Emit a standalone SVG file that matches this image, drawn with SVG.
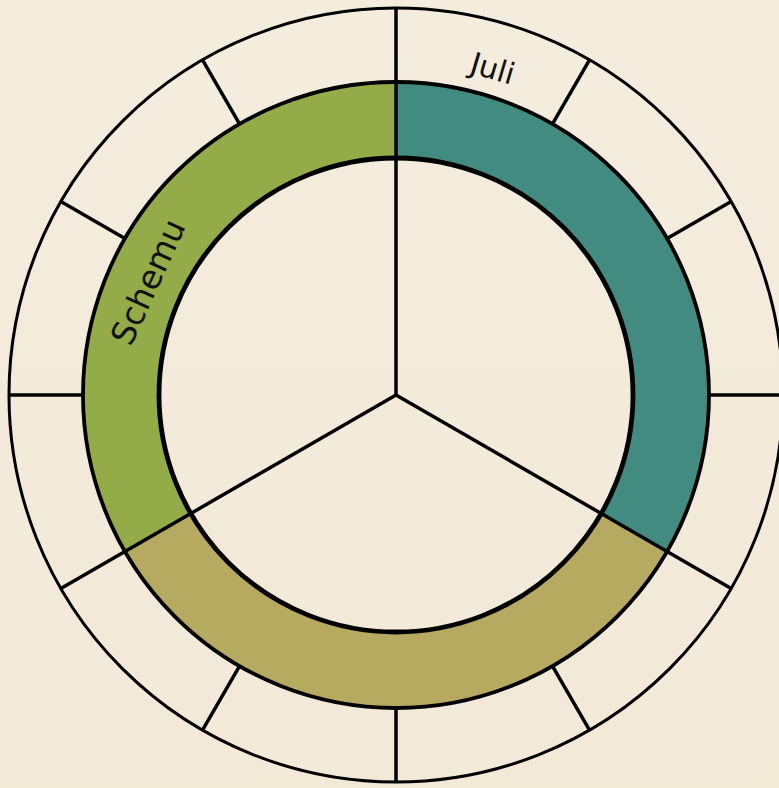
<svg xmlns="http://www.w3.org/2000/svg" width="779" height="788" viewBox="0 0 779 788">
<style>
.ln{stroke:#000;stroke-width:3.5;fill:none;stroke-linecap:butt}
.lbl{font-family:"DejaVu Sans","Open Sans",sans-serif;font-size:30px;fill:#111;text-anchor:middle}
</style>
<defs>
<linearGradient id="bg" x1="0" y1="0" x2="0" y2="1">
<stop offset="0" stop-color="#f4ecdd"/>
<stop offset="1" stop-color="#f2e9d7"/>
</linearGradient>
</defs>
<rect width="779" height="788" fill="url(#bg)"/>
<g id="seg-teal"><path d="M396,82 A313,313 0 0 1 667.1,551.5 L601.2,513.5 A237,237 0 0 0 396,158 Z" fill="#418b80"/></g>
<g id="seg-khaki"><path d="M667.1,551.5 A313,313 0 0 1 124.9,551.5 L190.8,513.5 A237,237 0 0 0 601.2,513.5 Z" fill="#b6aa60"/></g>
<g id="seg-green"><path d="M124.9,551.5 A313,313 0 0 1 396,82 L396,158 A237,237 0 0 0 190.8,513.5 Z" fill="#94ac48"/></g>
<g id="connectors">
<circle class="ln" cx="396" cy="395" r="387" style="stroke-width:3"/>
<circle class="ln" cx="396" cy="395" r="313" style="stroke-width:3.8"/>
<circle class="ln" cx="396" cy="395" r="237" style="stroke-width:4.8"/>
<line class="ln" x1="396" y1="395" x2="396" y2="8"/>
<line class="ln" x1="396" y1="395" x2="396" y2="8" transform="rotate(120 396 395)"/>
<line class="ln" x1="396" y1="395" x2="396" y2="8" transform="rotate(240 396 395)"/>
<line class="ln" x1="396" y1="8" x2="396" y2="82" transform="rotate(30 396 395)"/>
<line class="ln" x1="396" y1="8" x2="396" y2="82" transform="rotate(60 396 395)"/>
<line class="ln" x1="396" y1="8" x2="396" y2="82" transform="rotate(90 396 395)"/>
<line class="ln" x1="396" y1="8" x2="396" y2="82" transform="rotate(150 396 395)"/>
<line class="ln" x1="396" y1="8" x2="396" y2="82" transform="rotate(180 396 395)"/>
<line class="ln" x1="396" y1="8" x2="396" y2="82" transform="rotate(210 396 395)"/>
<line class="ln" x1="396" y1="8" x2="396" y2="82" transform="rotate(270 396 395)"/>
<line class="ln" x1="396" y1="8" x2="396" y2="82" transform="rotate(300 396 395)"/>
<line class="ln" x1="396" y1="8" x2="396" y2="82" transform="rotate(330 396 395)"/>
</g>
<g id="label-juli"><text class="lbl" x="396" y="395" transform="rotate(16.5 396 395) translate(0,-330)">Juli</text></g>
<g id="label-schemu"><text class="lbl" x="396" y="395" style="font-size:33px" transform="rotate(-65.5 396 395) translate(0,-261)">Schemu</text></g>
</svg>
